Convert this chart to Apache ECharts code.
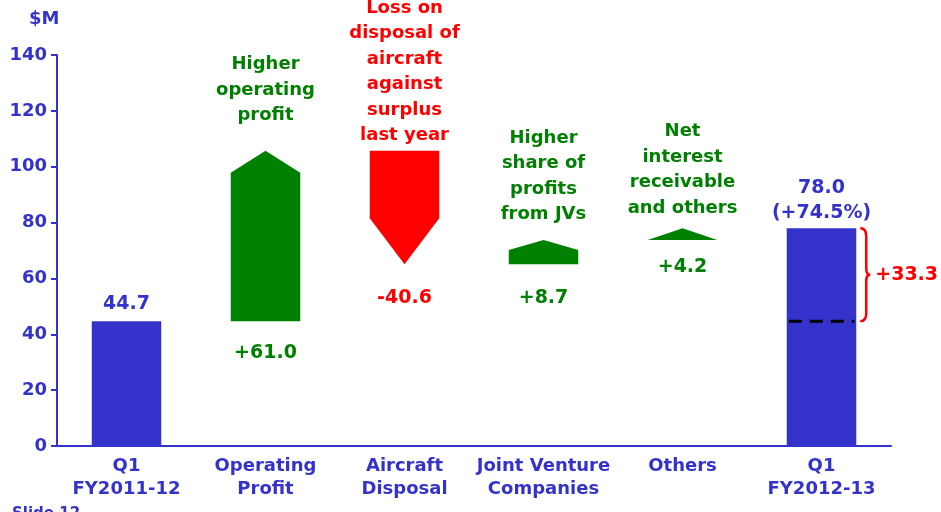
<!DOCTYPE html>
<html>
<head>
<meta charset="utf-8">
<script src="https://cdn.jsdelivr.net/npm/echarts@6/dist/echarts.min.js"></script>
<style>
html, body { margin: 0; padding: 0; background: #fff; }
#main { width: 941px; height: 512px; }
</style>
</head>
<body>
<div id="main"></div>
<script>
// chart data
var categories = ['Q1\nFY2011-12', 'Operating\nProfit', 'Aircraft\nDisposal', 'Joint Venture\nCompanies', 'Others', 'Q1\nFY2012-13'];
var startValues = [0, 44.7, 105.7, 65.1, 73.8, 0];
var endValues = [44.7, 105.7, 65.1, 73.8, 78.0, 78.0];
var valueLabels = ['44.7', '+61.0', '-40.6', '+8.7', '+4.2', '78.0\n(+74.5%)'];
var notes = ['', 'Higher\noperating\nprofit', 'Loss on\ndisposal of\naircraft\nagainst\nsurplus\nlast year', 'Higher\nshare of\nprofits\nfrom JVs', 'Net\ninterest\nreceivable\nand others', ''];
var yTicks = [0, 20, 40, 60, 80, 100, 120, 140];
var lastYear = 44.7;
var growthLabel = '+33.3';

// look
var BLUE = '#3333CC', GREEN = '#008000', RED = '#FF0000';
var FONT = 'DejaVu Sans';
var headPx = [0, 22, 46, 10, 999, 0];
var labelGap = [13, 32, 34, 34, 27, 11];
var noteGap = [0, 35, 15, 25, 20, 0];

var chart = echarts.init(document.getElementById('main'));

function renderBar(params, api) {
    var i = api.value(0);
    var s = api.value(1), e = api.value(2);
    var p0 = api.coord([i, s]);
    var p1 = api.coord([i, e]);
    var w = api.size([1, 0])[0] * 0.5;
    var cx = p0[0];
    var x0 = cx - w / 2, x1 = cx + w / 2;
    var isTotal = (i === 0 || i === categories.length - 1);
    var color = isTotal ? BLUE : (e >= s ? GREEN : RED);
    var children = [];
    var yb = p0[1], yt = p1[1];
    if (isTotal) {
        children.push({ type: 'rect', shape: { x: x0, y: yt, width: w, height: yb - yt }, style: { fill: color } });
        children.push({ type: 'text', x: cx, y: yt - labelGap[i] + 8,
            style: { text: valueLabels[i], fill: BLUE, font: 'bold 19px "' + FONT + '"', align: 'center', verticalAlign: 'bottom', lineHeight: 25 } });
    } else {
        var h = Math.min(headPx[i], Math.abs(yb - yt));
        var dir = e >= s ? 1 : -1;
        var sh = yt + dir * h;
        children.push({ type: 'polygon', shape: { points: [[x0, yb], [x1, yb], [x1, sh], [cx, yt], [x0, sh]] }, style: { fill: color } });
        var low = Math.max(yb, yt);
        var high = Math.min(yb, yt);
        children.push({ type: 'text', x: cx, y: low + labelGap[i],
            style: { text: valueLabels[i], fill: color, font: 'bold 19px "' + FONT + '"', align: 'center', verticalAlign: 'middle' } });
        children.push({ type: 'text', x: cx, y: high - noteGap[i] + 12.5,
            style: { text: notes[i], fill: color, font: 'bold 18px "' + FONT + '"', align: 'center', verticalAlign: 'bottom', lineHeight: 25.5 } });
    }
    return { type: 'group', children: children };
}

function renderBrace(params, api) {
    var i = api.value(0);
    var pTop = api.coord([i, api.value(2)]);
    var pLow = api.coord([i, api.value(1)]);
    var w = api.size([1, 0])[0] * 0.5;
    var x0 = pTop[0] - w / 2, x1 = pTop[0] + w / 2;
    var bx = x1 + 4;
    var mid = (pTop[1] + pLow[1]) / 2;
    var t = pTop[1], b = pLow[1];
    var path = 'M' + bx + ',' + t +
        ' Q' + (bx + 6) + ',' + t + ' ' + (bx + 6) + ',' + (t + 8) +
        ' L' + (bx + 6) + ',' + (mid - 6) +
        ' Q' + (bx + 6) + ',' + mid + ' ' + (bx + 10) + ',' + mid +
        ' Q' + (bx + 6) + ',' + mid + ' ' + (bx + 6) + ',' + (mid + 6) +
        ' L' + (bx + 6) + ',' + (b - 8) +
        ' Q' + (bx + 6) + ',' + b + ' ' + bx + ',' + b;
    return { type: 'group', children: [
        { type: 'line', shape: { x1: x0 + 2, y1: b, x2: x1 - 2, y2: b },
          style: { stroke: '#000', lineWidth: 3, lineDash: [13, 8] } },
        { type: 'path', shape: { pathData: path }, style: { stroke: RED, lineWidth: 2.5, fill: null } },
        { type: 'text', x: bx + 15, y: mid,
          style: { text: growthLabel, fill: RED, font: 'bold 19px "' + FONT + '"', align: 'left', verticalAlign: 'middle' } }
    ] };
}

var barData = categories.map(function (c, i) { return [i, startValues[i], endValues[i]]; });
var last = categories.length - 1;

chart.setOption({
    animation: false,
    grid: { left: 57, right: 50, top: 55, bottom: 66 },
    graphic: [
        { type: 'text', left: 29, top: 10, style: { text: '$M', fill: BLUE, font: 'bold 18px "' + FONT + '"' } },
        { type: 'text', left: 12, top: 507, style: { text: 'Slide 12', fill: BLUE, font: 'bold 15px "' + FONT + '"' } }
    ],
    xAxis: {
        type: 'category',
        data: categories,
        axisLine: { lineStyle: { color: BLUE, width: 2 } },
        axisTick: { lineStyle: { color: BLUE, width: 2 }, length: 6 },
        axisLabel: { interval: 0, color: BLUE, fontFamily: FONT, fontWeight: 'bold', fontSize: 18, lineHeight: 23, margin: 9 }
    },
    yAxis: {
        type: 'value',
        min: yTicks[0],
        max: yTicks[yTicks.length - 1],
        interval: yTicks[1] - yTicks[0],
        splitLine: { show: false },
        axisLine: { show: true, lineStyle: { color: BLUE, width: 2 } },
        axisTick: { show: true, lineStyle: { color: BLUE, width: 2 }, length: 6 },
        axisLabel: { color: BLUE, fontFamily: FONT, fontWeight: 'bold', fontSize: 18, margin: 10 }
    },
    series: [
        {
            type: 'custom',
            renderItem: renderBar,
            encode: { x: 0, y: [1, 2] },
            data: barData,
            clip: false
        },
        {
            type: 'custom',
            renderItem: renderBrace,
            encode: { x: 0, y: [1, 2] },
            data: [[last, lastYear, endValues[last]]],
            clip: false
        }
    ]
});
</script>
</body>
</html>
